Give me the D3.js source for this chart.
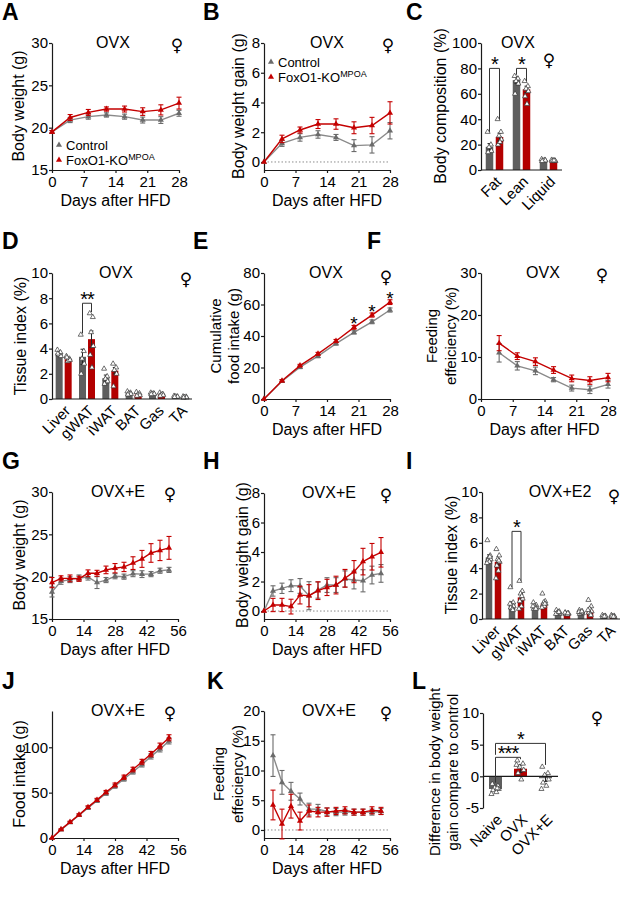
<!DOCTYPE html>
<html>
<head>
<meta charset="utf-8">
<script src="https://cdn.jsdelivr.net/npm/d3@7"></script>
<style>
  body { margin: 0; background: #fff; }
  svg { font-family: "Liberation Sans", Arial, sans-serif; }
  .axis text { font-size: 15px; fill: #000; font-family: "Liberation Sans", Arial, sans-serif; }
  .axis path, .axis line { stroke: #1a1a1a; stroke-width: 1.2; }
</style>
</head>
<body>
<svg width="621" height="899"></svg>
<script>
// ---- data ----
var daysOvx = [0, 4, 8, 12, 16, 20, 24, 28],
    daysOvxFe = [4, 8, 12, 16, 20, 24, 28],
    daysE = [0, 4, 8, 12, 16, 20, 24, 28, 32, 36, 40, 44, 48, 52],
    daysEFe = [4, 8, 12, 16, 20, 24, 28, 32, 36, 40, 44, 48, 52];

var ticks28 = [0, 7, 14, 21, 28],
    ticks56 = [0, 14, 28, 42, 56];

// A body weight, OVX
var bwOvxCtrl = [19.5, 20.9, 21.3, 21.5, 21.3, 20.9, 20.9, 21.7],
    bwOvxCtrlSem = [0.15, 0.3, 0.3, 0.25, 0.3, 0.35, 0.4, 0.35],
    bwOvxKo = [19.5, 21.2, 21.8, 22.2, 22.2, 21.9, 22.1, 22.9],
    bwOvxKoSem = [0.15, 0.35, 0.35, 0.25, 0.35, 0.45, 0.6, 0.7];

// B body weight gain, OVX
var gainOvxCtrl = [0, 1.25, 1.65, 1.85, 1.65, 1.1, 1.15, 2.1],
    gainOvxCtrlSem = [0, 0.2, 0.25, 0.25, 0.2, 0.4, 0.55, 0.55],
    gainOvxKo = [0, 1.55, 2.15, 2.55, 2.55, 2.3, 2.45, 3.3],
    gainOvxKoSem = [0, 0.25, 0.2, 0.3, 0.35, 0.4, 0.55, 0.75];

// C body composition
var compCats = ["Fat", "Lean", "Liquid"],
    compCtrl = [18.3, 70.8, 7.8],
    compCtrlSem = [2.5, 2.5, 0.6],
    compKo = [26, 63.5, 7.4],
    compKoSem = [3, 2.5, 0.5],
    compCtrlPts = [[30, 20, 18, 15, 14], [74, 72, 70, 68, 60], [8.5, 8, 7.5, 7.5, 7]],
    compKoPts = [[40, 30, 27, 24, 20, 22], [70, 66, 64, 62, 58, 52], [8, 7.5, 7.5, 7, 7, 7.5]];
var compSig = [
  {cat: "Fat", top: 80, legA: 30, legB: 40, text: "*"},
  {cat: "Lean", top: 80, legA: 75, legB: 70, text: "*"}
];

// D tissue index, OVX
var tissues = ["Liver", "gWAT", "iWAT", "BAT", "Gas", "TA"],
    tiOvxCtrl = [3.65, 3.35, 1.65, 0.45, 0.42, 0.2],
    tiOvxCtrlSem = [0.15, 0.6, 0.25, 0.06, 0.03, 0.03],
    tiOvxKo = [3.15, 4.75, 2.25, 0.35, 0.35, 0.15],
    tiOvxKoSem = [0.1, 0.65, 0.25, 0.05, 0.05, 0.03],
    tiOvxCtrlPts = [[3.9, 3.7, 3.5, 3.4, 3.6], [5.1, 3.8, 3.2, 2.8, 2.0], [2.4, 1.8, 1.6, 1.4, 1.2],
                    [0.6, 0.5, 0.45, 0.4, 0.35], [0.5, 0.45, 0.42, 0.4, 0.38], [0.25, 0.2, 0.2, 0.18, 0.15]],
    tiOvxKoPts = [[3.4, 3.2, 3.0, 3.1, 3.3], [6.8, 6.5, 5.3, 4.2, 3.5, 2.5], [2.8, 2.5, 2.3, 2.0, 1.0],
                  [0.55, 0.45, 0.35, 0.3, 0.25], [0.5, 0.4, 0.35, 0.3, 0.25], [0.2, 0.18, 0.15, 0.12, 0.1]];
var tiOvxSig = [{cat: "gWAT", top: 7.6, legA: 5.2, legB: 6.9, text: "**"}];

// E cumulative food intake, OVX
var foodOvxCtrl = [0, 11.3, 20.2, 27.2, 35.2, 42.3, 49, 56.5],
    foodOvxCtrlSem = [0, 0.8, 0.9, 1, 1, 1, 1.2, 1.3],
    foodOvxKo = [0, 11.6, 21.2, 28.7, 36.8, 45.5, 53.3, 61.5],
    foodOvxKoSem = [0, 0.7, 0.8, 0.9, 1, 1.2, 1.3, 1.5],
    foodOvxStars = [20, 24, 28];

// F feeding efficiency, OVX
var feOvxCtrl = [11.0, 7.9, 6.7, 4.6, 2.6, 2.2, 3.5],
    feOvxCtrlSem = [2.2, 1.0, 0.9, 0.5, 0.7, 0.9, 0.9],
    feOvxKo = [13.3, 10.2, 8.9, 6.9, 4.9, 4.4, 5.1],
    feOvxKoSem = [1.8, 0.8, 0.9, 0.8, 0.8, 0.9, 1.0];

// G body weight, OVX+E
var bwECtrl = [18.2, 19.45, 19.65, 19.85, 19.95, 19.3, 19.6, 20.05, 20.0, 20.35, 20.3, 20.3, 20.7, 20.8],
    bwECtrlSem = [0.6, 0.35, 0.35, 0.35, 0.35, 0.7, 0.3, 0.3, 0.3, 0.35, 0.4, 0.3, 0.3, 0.3],
    bwEKo = [19.3, 19.8, 19.8, 19.75, 20.4, 20.4, 20.8, 21.0, 21.15, 21.6, 22.1, 22.8, 23.1, 23.4],
    bwEKoSem = [0.6, 0.3, 0.4, 0.3, 0.4, 0.35, 0.45, 0.55, 0.55, 0.75, 1.0, 1.1, 1.2, 1.35];

// H body weight gain, OVX+E
var gainECtrl = [0, 1.36, 1.54, 1.72, 1.7, 1.04, 1.42, 1.76, 1.76, 2.17, 2.1, 2.05, 2.44, 2.55],
    gainECtrlSem = [0, 0.35, 0.35, 0.4, 0.5, 0.95, 0.55, 0.5, 0.5, 0.55, 0.6, 0.75, 0.6, 0.6],
    gainEKo = [0, 0.41, 0.41, 0.3, 1.08, 1.04, 1.38, 1.6, 1.76, 2.22, 2.67, 3.35, 3.68, 3.98],
    gainEKoSem = [0, 0.45, 0.45, 0.5, 0.6, 0.75, 0.6, 0.55, 0.6, 0.6, 0.75, 0.9, 0.9, 1.0];

// I tissue index, OVX+E2
var tiECtrl = [4.85, 1.15, 0.95, 0.45, 0.5, 0.2],
    tiECtrlSem = [0.2, 0.2, 0.08, 0.05, 0.05, 0.03],
    tiEKo = [4.5, 1.7, 1.2, 0.42, 0.7, 0.2],
    tiEKoSem = [0.25, 0.3, 0.12, 0.03, 0.15, 0.03],
    tiECtrlPts = [[6.2, 5.0, 4.8, 4.7, 4.6, 4.5, 4.4, 4.9], [2.5, 1.3, 1.1, 1.0, 0.9, 0.8, 1.2, 0.7],
                  [1.3, 1.1, 1.0, 0.9, 0.8, 0.9, 1.0, 0.8], [0.7, 0.6, 0.5, 0.4, 0.45, 0.5, 0.4, 0.55],
                  [0.7, 0.6, 0.5, 0.45, 0.4, 0.5, 0.55, 0.6], [0.3, 0.25, 0.2, 0.2, 0.15, 0.2]],
    tiEKoPts = [[5.5, 5.0, 4.7, 4.5, 4.2, 3.8, 3.2, 4.6], [3.0, 2.2, 2.0, 1.6, 1.4, 1.0, 0.8, 1.8],
                [2.0, 1.4, 1.3, 1.2, 1.1, 1.0, 0.9, 1.2], [0.5, 0.45, 0.4, 0.42, 0.38, 0.35, 0.5, 0.45],
                [1.5, 1.0, 0.8, 0.6, 0.5, 0.4, 0.7, 0.3], [0.3, 0.25, 0.2, 0.15, 0.2, 0.18]];
var tiESig = [{cat: "gWAT", top: 6.9, legA: 2.5, legB: 3.0, text: "*"}];

// J food intake, OVX+E
var foodECtrl = [0, 9, 17, 25, 33, 41, 49, 57, 65, 73, 81, 90, 98, 107],
    foodECtrlSem = [0, 0.6, 1, 1.2, 1.5, 1.7, 1.9, 2.1, 2.3, 2.5, 2.7, 2.9, 3.1, 3.3],
    foodEKo = [0, 9.5, 17.5, 25.5, 34, 42, 50.5, 58.5, 67, 75.5, 84, 92.5, 101.5, 110.5],
    foodEKoSem = [0, 0.6, 1, 1.2, 1.5, 1.7, 1.9, 2.1, 2.3, 2.5, 2.7, 2.9, 3.1, 3.3];

// K feeding efficiency, OVX+E
var feECtrl = [12.5, 8, 6.5, 5.2, 3.5, 3.5, 3.1, 3, 3, 3, 3, 3, 3.1],
    feECtrlSem = [3.5, 2, 1.5, 1, 1, 0.8, 0.6, 0.6, 0.5, 0.5, 0.5, 0.5, 0.5],
    feEKo = [4.2, 1.0, 4.0, 1.5, 3.2, 3, 3, 3.2, 3.3, 3.0, 3.0, 3.3, 3.2],
    feEKoSem = [2.5, 2.5, 2, 1.5, 1, 0.8, 0.7, 0.6, 0.6, 0.5, 0.5, 0.6, 0.6];

// L difference in body weight gain
var diffCats = ["Naive", "OVX", "OVX+E"],
    diffMean = [-2.0, 1.2, -0.3],
    diffSem = [0.25, 0.6, 0.5],
    diffPts = [[-1.2, -1.5, -1.8, -2.0, -2.2, -2.5, -2.8, -1.9],
               [2.5, 2.0, 1.5, 1.0, 0.5, -0.5, 1.8],
               [1.5, 0.5, 0.2, -0.5, -1.0, -1.5, -2.0]];
var diffSig = [
  {a: "Naive", b: "OVX", top: 3.0, legA: -1.0, legB: 2.7, text: "***"},
  {a: "Naive", b: "OVX+E", top: 5.2, legA: 3.4, legB: 1.8, text: "*"}
];

// ---- drawing ----
var svg = d3.select("svg");
var LINE_GRAY = "#8a8a8a", MARK_GRAY = "#6b6b6b", RED = "#c40000",
    BAR_GRAY = "#5e5e5e", BAR_RED = "#b30000";
var jitter = [-2, 1.5, -0.5, 2, -1.5, 0.5, -2.5, 1];

function letter(t, x, y) {
  svg.append("text").attr("x", x).attr("y", y)
    .attr("font-size", 23).attr("font-weight", "bold").text(t);
}

function header(title, tx, fx, top, fdy) {
  svg.append("text").attr("x", tx).attr("y", top + 5)
    .attr("text-anchor", "middle").attr("font-size", 16).text(title);
  svg.append("text").attr("x", fx).attr("y", top + 8 + (fdy || 0))
    .attr("text-anchor", "middle").attr("font-family", "DejaVu Sans")
    .attr("font-size", 17).text("\u2640");
}

function yLabel(lines, xs, cy, size) {
  lines.forEach(function (t, i) {
    svg.append("text")
      .attr("transform", "translate(" + xs[i] + "," + cy + ") rotate(-90)")
      .attr("text-anchor", "middle").attr("dy", "0.35em")
      .attr("font-size", size || 16).text(t);
  });
}

function axes(x, y, p, xAxis) {
  if (xAxis) {
    svg.append("g").attr("class", "axis")
      .attr("transform", "translate(0," + p.bottom + ")")
      .call(d3.axisBottom(x).tickValues(p.xTicks).tickSize(3).tickSizeOuter(0).tickPadding(3));
  }
  svg.append("g").attr("class", "axis")
    .attr("transform", "translate(" + p.left + ",0)")
    .call(d3.axisLeft(y).tickValues(p.yTicks).tickSize(3).tickSizeOuter(0).tickPadding(1)
      .tickFormat(function (d) { return String(d); }));
}

function linePanel(p) {
  var x = d3.scaleLinear().domain(p.xDomain).range([p.left, p.right]),
      y = d3.scaleLinear().domain(p.yDomain).range([p.bottom, p.top]);

  if (p.zero) {
    svg.append("line")
      .attr("x1", p.left).attr("x2", p.right).attr("y1", y(0)).attr("y2", y(0))
      .attr("stroke", "#8c8c8c").attr("stroke-width", 1).attr("stroke-dasharray", "1.5,2");
  }
  axes(x, y, p, true);

  p.series.forEach(function (s) {
    var pts = s.x.map(function (d, i) { return {x: d, y: s.y[i], e: s.e[i]}; });
    svg.append("path").datum(pts)
      .attr("fill", "none").attr("stroke", s.line).attr("stroke-width", 1.4)
      .attr("d", d3.line().x(function (d) { return x(d.x); }).y(function (d) { return y(d.y); }));

    var eb = svg.append("g").attr("stroke", s.color).attr("stroke-width", 1.1);
    pts.forEach(function (d) {
      if (!d.e) return;
      var cx = x(d.x);
      eb.append("line").attr("x1", cx).attr("x2", cx)
        .attr("y1", y(d.y - d.e)).attr("y2", y(d.y + d.e));
      [d.y - d.e, d.y + d.e].forEach(function (v) {
        eb.append("line").attr("x1", cx - 2.5).attr("x2", cx + 2.5)
          .attr("y1", y(v)).attr("y2", y(v));
      });
    });

    svg.append("g").selectAll("path").data(pts).join("path")
      .attr("transform", function (d) { return "translate(" + x(d.x) + "," + y(d.y) + ")"; })
      .attr("d", d3.symbol(d3.symbolTriangle, 16))
      .attr("fill", s.color);

    (s.stars || []).forEach(function (day) {
      var i = s.x.indexOf(day);
      svg.append("text").attr("x", x(day)).attr("y", y(s.y[i] + s.e[i]) + 5)
        .attr("text-anchor", "middle").attr("font-size", 19).text("*");
    });
  });

  svg.append("text").attr("x", (p.left + p.right) / 2).attr("y", p.bottom + 36)
    .attr("text-anchor", "middle").attr("font-size", 16).text("Days after HFD");
}

function barPanel(p) {
  var x = d3.scaleBand().domain(p.cats).range([p.left, p.right]),
      y = d3.scaleLinear().domain(p.yDomain).range([p.bottom, p.top]),
      base = p.baseY !== undefined ? y(0) : p.bottom;

  function pos(cat, gi) {
    return x(cat) + x.bandwidth() / 2 + p.groups[gi].off;
  }

  p.groups.forEach(function (grp, gi) {
    p.cats.forEach(function (c, i) {
      var cx = pos(c, gi), v = grp.vals[i], fill = grp.fills ? grp.fills[i] : grp.fill;
      svg.append("rect")
        .attr("x", cx - p.bw / 2).attr("width", p.bw)
        .attr("y", Math.min(y(v), y(0))).attr("height", Math.abs(y(v) - y(0)))
        .attr("fill", fill);

      var e = grp.sem[i];
      var eb = svg.append("g").attr("stroke", "#222").attr("stroke-width", 1);
      eb.append("line").attr("x1", cx).attr("x2", cx).attr("y1", y(v - e)).attr("y2", y(v + e));
      [v - e, v + e].forEach(function (w) {
        eb.append("line").attr("x1", cx - 2).attr("x2", cx + 2).attr("y1", y(w)).attr("y2", y(w));
      });

      svg.append("g").selectAll("path").data(grp.pts[i]).join("path")
        .attr("transform", function (d, k) {
          return "translate(" + (cx + jitter[k % jitter.length] * p.bw / 8) + "," + y(d) + ")";
        })
        .attr("d", d3.symbol(d3.symbolTriangle, 11))
        .attr("fill", "#fff").attr("stroke", "#333").attr("stroke-width", 0.7);
    });
  });

  // baseline and y axis
  svg.append("line").attr("x1", p.left).attr("x2", p.right)
    .attr("y1", base).attr("y2", base).attr("stroke", "#1a1a1a").attr("stroke-width", 1.2);
  axes(null, y, p, false);

  p.sig.forEach(function (s) {
    var xa = s.cat ? pos(s.cat, 0) : pos(s.a, 0),
        xb = s.cat ? pos(s.cat, 1) : pos(s.b, 0),
        yt = y(s.top);
    svg.append("path")
      .attr("d", "M" + xa + "," + y(s.legA) + "V" + yt + "H" + xb + "V" + y(s.legB))
      .attr("fill", "none").attr("stroke", "#333").attr("stroke-width", 1);
    svg.append("text").attr("x", (xa + xb) / 2).attr("y", yt + 3)
      .attr("text-anchor", "middle").attr("font-size", 20).attr("letter-spacing", -1)
      .text(s.text);
  });

  p.cats.forEach(function (c) {
    var cx = x(c) + x.bandwidth() / 2;
    svg.append("text")
      .attr("transform", "translate(" + (cx + 4) + "," + (p.bottom + 9) + ") rotate(-45)")
      .attr("text-anchor", "end").attr("dy", "0.35em")
      .attr("font-size", 15).text(c);
  });
}

function ctrlKo(xs, c, ce, k, ke) {
  return [
    {x: xs, y: c, e: ce, color: MARK_GRAY, line: LINE_GRAY},
    {x: xs, y: k, e: ke, color: RED, line: RED}
  ];
}

function legend(x, y) {
  var items = [["Control", MARK_GRAY], ["FoxO1-KO", RED]];
  items.forEach(function (d, i) {
    svg.append("path").attr("transform", "translate(" + x + "," + (y + i * 15) + ")")
      .attr("d", d3.symbol(d3.symbolTriangle, 16)).attr("fill", d[1]);
    var t = svg.append("text").attr("x", x + 7).attr("y", y + i * 15 + 4.5)
      .attr("font-size", 13).text(d[0]);
    if (i === 1) {
      t.append("tspan").attr("font-size", 9).attr("dy", -5).text("MPOA");
    }
  });
}

// ---- row 1 ----
letter("A", 2, 20);
linePanel({left: 52, right: 179, top: 43, bottom: 170, xDomain: [0, 28], yDomain: [15, 30],
  xTicks: ticks28, yTicks: [15, 20, 25, 30],
  series: ctrlKo(daysOvx, bwOvxCtrl, bwOvxCtrlSem, bwOvxKo, bwOvxKoSem)});
yLabel(["Body weight (g)"], [18], 106);
header("OVX", 113, 177, 43);
legend(59, 145);

letter("B", 203, 20);
linePanel({left: 264, right: 390, top: 43, bottom: 170, xDomain: [0, 28], yDomain: [-0.54, 8],
  xTicks: ticks28, yTicks: [0, 2, 4, 6, 8], zero: true,
  series: ctrlKo(daysOvx, gainOvxCtrl, gainOvxCtrlSem, gainOvxKo, gainOvxKoSem)});
yLabel(["Body weight gain (g)"], [238], 106);
header("OVX", 327, 388, 43);
legend(271, 62);

letter("C", 406, 20);
barPanel({left: 481, right: 562, top: 43, bottom: 170, yDomain: [0, 100], yTicks: [0, 20, 40, 60, 80, 100],
  cats: compCats, bw: 7.5,
  groups: [
    {vals: compCtrl, sem: compCtrlSem, pts: compCtrlPts, fill: BAR_GRAY, off: -5},
    {vals: compKo, sem: compKoSem, pts: compKoPts, fill: BAR_RED, off: 5}
  ],
  sig: compSig});
yLabel(["Body composition (%)"], [440], 106);
header("OVX", 518, 549, 43, 15);

// ---- row 2 ----
letter("D", 2, 249);
barPanel({left: 52, right: 192, top: 273, bottom: 399, yDomain: [0, 10], yTicks: [0, 2, 4, 6, 8, 10],
  cats: tissues, bw: 7,
  groups: [
    {vals: tiOvxCtrl, sem: tiOvxCtrlSem, pts: tiOvxCtrlPts, fill: BAR_GRAY, off: -4.5},
    {vals: tiOvxKo, sem: tiOvxKoSem, pts: tiOvxKoPts, fill: BAR_RED, off: 4.5}
  ],
  sig: tiOvxSig});
yLabel(["Tissue index (%)"], [20], 336);
header("OVX", 116, 186, 273, 4);

letter("E", 193, 249);
linePanel({left: 264, right: 390, top: 273, bottom: 399, xDomain: [0, 28], yDomain: [0, 80],
  xTicks: ticks28, yTicks: [0, 20, 40, 60, 80],
  series: (function () {
    var s = ctrlKo(daysOvx, foodOvxCtrl, foodOvxCtrlSem, foodOvxKo, foodOvxKoSem);
    s[1].stars = foodOvxStars;
    return s;
  })()});
yLabel(["Cumulative", "food intake (g)"], [216, 234], 336, 15);
header("OVX", 326, 386, 273, 2);

letter("F", 367, 249);
linePanel({left: 481, right: 608, top: 273, bottom: 399, xDomain: [0, 28], yDomain: [0, 30],
  xTicks: ticks28, yTicks: [0, 10, 20, 30],
  series: ctrlKo(daysOvxFe, feOvxCtrl, feOvxCtrlSem, feOvxKo, feOvxKoSem)});
yLabel(["Feeding", "effeiciency (%)"], [432, 451], 336, 15);
header("OVX", 543, 602, 273);

// ---- row 3 ----
letter("G", 2, 469);
linePanel({left: 52, right: 178, top: 492, bottom: 619, xDomain: [0, 56], yDomain: [15, 30],
  xTicks: ticks56, yTicks: [15, 20, 25, 30],
  series: ctrlKo(daysE, bwECtrl, bwECtrlSem, bwEKo, bwEKoSem)});
yLabel(["Body weight (g)"], [19], 555);
header("OVX+E", 118, 170, 492);

letter("H", 203, 469);
linePanel({left: 264, right: 390, top: 493, bottom: 619, xDomain: [0, 56], yDomain: [-0.54, 8],
  xTicks: ticks56, yTicks: [0, 2, 4, 6, 8], zero: true,
  series: ctrlKo(daysE, gainECtrl, gainECtrlSem, gainEKo, gainEKoSem)});
yLabel(["Body weight gain (g)"], [242], 555);
header("OVX+E", 329, 386, 493);

letter("I", 406, 469);
barPanel({left: 482, right: 620, top: 492, bottom: 619, yDomain: [0, 10], yTicks: [0, 2, 4, 6, 8, 10],
  cats: tissues, bw: 6.5,
  groups: [
    {vals: tiECtrl, sem: tiECtrlSem, pts: tiECtrlPts, fill: BAR_GRAY, off: -4.5},
    {vals: tiEKo, sem: tiEKoSem, pts: tiEKoPts, fill: BAR_RED, off: 4.5}
  ],
  sig: tiESig});
yLabel(["Tissue index (%)"], [451], 555);
header("OVX+E2", 560, 614, 492, 2);

// ---- row 4 ----
letter("J", 2, 689);
linePanel({left: 52, right: 178, top: 711, bottom: 838, xDomain: [0, 56], yDomain: [0, 140],
  xTicks: ticks56, yTicks: [0, 50, 100],
  series: ctrlKo(daysE, foodECtrl, foodECtrlSem, foodEKo, foodEKoSem)});
yLabel(["Food intake (g)"], [19], 774);
header("OVX+E", 118, 170, 711);

letter("K", 207, 689);
linePanel({left: 264, right: 390, top: 711, bottom: 838, xDomain: [0, 56], yDomain: [-1.35, 20],
  xTicks: ticks56, yTicks: [0, 5, 10, 15, 20], zero: true,
  series: ctrlKo(daysEFe, feECtrl, feECtrlSem, feEKo, feEKoSem)});
yLabel(["Feeding", "effeiciency (%)"], [219, 238], 774, 15);
header("OVX+E", 329, 386, 711);

letter("L", 412, 689);
barPanel({left: 483, right: 558, top: 713, bottom: 808, yDomain: [-5, 10], yTicks: [-5, 0, 5, 10],
  cats: diffCats, bw: 13, baseY: 0,
  groups: [
    {vals: diffMean, sem: diffSem, pts: diffPts, fills: [BAR_GRAY, BAR_RED, BAR_GRAY], off: 0}
  ],
  sig: diffSig});
yLabel(["Difference in body weight", "gain compare to control"], [435, 453], 772, 15);
svg.append("text").attr("x", 597).attr("y", 724).attr("text-anchor", "middle")
  .attr("font-family", "DejaVu Sans").attr("font-size", 17).text("\u2640");
</script>
</body>
</html>
